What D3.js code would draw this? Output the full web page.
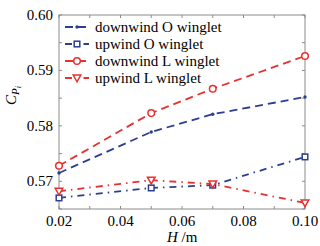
<!DOCTYPE html>
<html>
<head>
<meta charset="utf-8">
<script src="https://cdn.jsdelivr.net/npm/d3@7"></script>
</head>
<body style="margin:0">
<svg id="chart" width="320" height="246"></svg>
<script>
const hValues = [0.02, 0.05, 0.07, 0.10];
const seriesNames = ["downwind O winglet", "upwind O winglet", "downwind L winglet", "upwind L winglet"];
const downwindO = [0.5715, 0.5789, 0.5821, 0.5852];
const upwindO = [0.5670, 0.5688, 0.5693, 0.5744];
const downwindL = [0.5728, 0.5823, 0.5867, 0.5926];
const upwindL = [0.5682, 0.5702, 0.5695, 0.5661];
const yTicks = [0.57, 0.58, 0.59, 0.60];
const xTicks = [0.02, 0.04, 0.06, 0.08, 0.10];

const blue = "#2c3f8e", red = "#e8302e", axisGray = "#8a8a8a";
const FONT = "'Liberation Serif', serif";

const svg = d3.select("#chart");
const margin = { left: 59, right: 15, top: 15, bottom: 37 };
const W = 320, H = 246;

const x = d3.scaleLinear().domain([0.02, 0.10]).range([margin.left, W - margin.right]);
const y = d3.scaleLinear().domain([0.565, 0.60]).range([H - margin.bottom, margin.top]);

const series = [
  { name: seriesNames[0], values: downwindO, color: blue, dash: "8,5", marker: "dot" },
  { name: seriesNames[1], values: upwindO, color: blue, dash: "7,5,1.5,5", marker: "square" },
  { name: seriesNames[2], values: downwindL, color: red, dash: "8,5", marker: "circle" },
  { name: seriesNames[3], values: upwindL, color: red, dash: "7,5,1.5,5", marker: "triangle" }
];

// frame
svg.append("rect")
  .attr("x", x.range()[0]).attr("y", y.range()[1])
  .attr("width", x.range()[1] - x.range()[0])
  .attr("height", y.range()[0] - y.range()[1])
  .attr("fill", "none").attr("stroke", axisGray).attr("stroke-width", 1);

// inward ticks on all four sides
const xMinor = d3.range(0.02, 0.1001, 0.01);
const yMinor = d3.range(0.565, 0.6001, 0.005);
const tickLen = 3;
const tickG = svg.append("g").attr("stroke", axisGray).attr("stroke-width", 1);
xMinor.forEach(v => {
  tickG.append("line").attr("x1", x(v)).attr("x2", x(v)).attr("y1", y.range()[0]).attr("y2", y.range()[0] - tickLen);
  tickG.append("line").attr("x1", x(v)).attr("x2", x(v)).attr("y1", y.range()[1]).attr("y2", y.range()[1] + tickLen);
});
yMinor.forEach(v => {
  tickG.append("line").attr("y1", y(v)).attr("y2", y(v)).attr("x1", x.range()[0]).attr("x2", x.range()[0] + tickLen);
  tickG.append("line").attr("y1", y(v)).attr("y2", y(v)).attr("x1", x.range()[1]).attr("x2", x.range()[1] - tickLen);
});

// tick labels
svg.selectAll("text.xt").data(xTicks).enter().append("text")
  .attr("class", "xt")
  .attr("x", d => x(d)).attr("y", y.range()[0] + 17)
  .attr("text-anchor", "middle")
  .style("font-family", FONT).style("font-size", "15px")
  .text(d => d3.format(".2f")(d));
svg.selectAll("text.yt").data(yTicks).enter().append("text")
  .attr("class", "yt")
  .attr("x", x.range()[0] - 6).attr("y", d => y(d) + 5)
  .attr("text-anchor", "end")
  .style("font-family", FONT).style("font-size", "15px")
  .text(d => d3.format(".2f")(d));

// axis titles
const xl = svg.append("text").attr("x", 167).attr("y", 242)
  .style("font-family", FONT).style("font-size", "15px");
xl.append("tspan").style("font-style", "italic").text("H");
xl.append("tspan").text(" /m");

const yl = svg.append("text").attr("transform", "translate(16,105) rotate(-90)")
  .style("font-family", FONT).style("font-size", "15px");
yl.append("tspan").style("font-style", "italic").text("C");
yl.append("tspan").style("font-style", "italic").style("font-size", "11px").attr("dy", 3).text("P");
yl.append("tspan").style("font-style", "italic").style("font-size", "8px").attr("dy", 2).text("i");

function drawMarker(g, type, cx, cy, color) {
  if (type === "dot") {
    g.append("path").attr("d", d3.symbol(d3.symbolCircle, 9)())
      .attr("transform", `translate(${cx},${cy})`).attr("fill", color);
  } else if (type === "square") {
    g.append("rect").attr("x", cx - 2.8).attr("y", cy - 2.8).attr("width", 5.6).attr("height", 5.6)
      .attr("fill", "#fff").attr("stroke", color).attr("stroke-width", 1.5);
  } else if (type === "circle") {
    g.append("circle").attr("cx", cx).attr("cy", cy).attr("r", 3.3)
      .attr("fill", "#fff").attr("stroke", color).attr("stroke-width", 1.5);
  } else {
    g.append("path").attr("d", `M${cx - 3.8},${cy - 3}L${cx + 3.8},${cy - 3}L${cx},${cy + 3.8}Z`)
      .attr("fill", "#fff").attr("stroke", color).attr("stroke-width", 1.5);
  }
}

const line = d3.line().x((d, i) => x(hValues[i])).y(d => y(d));
series.forEach(s => {
  const g = svg.append("g");
  g.append("path").datum(s.values).attr("d", line)
    .attr("fill", "none").attr("stroke", s.color).attr("stroke-width", 1.8)
    .attr("stroke-dasharray", s.dash);
  s.values.forEach((v, i) => drawMarker(g, s.marker, x(hValues[i]), y(v), s.color));
});

// legend
const lg = svg.append("g");
series.forEach((s, i) => {
  const ly = 27 + i * 17;
  lg.append("line").attr("x1", 65).attr("x2", 89).attr("y1", ly).attr("y2", ly)
    .attr("stroke", s.color).attr("stroke-width", 1.8).attr("stroke-dasharray", s.dash);
  drawMarker(lg, s.marker, 77, ly, s.color);
  lg.append("text").attr("x", 95).attr("y", ly + 5)
    .style("font-family", FONT).style("font-size", "15px").text(s.name);
});
</script>
</body>
</html>
